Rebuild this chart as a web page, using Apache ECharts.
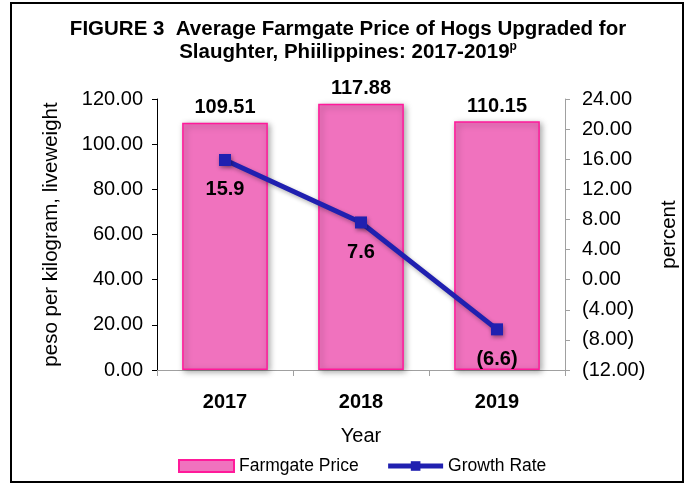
<!DOCTYPE html>
<html>
<head>
<meta charset="utf-8">
<script src="https://cdn.jsdelivr.net/npm/echarts@6/dist/echarts.min.js"></script>
<style>html,body{margin:0;padding:0;background:#fff}#c{width:689px;height:484px}</style>
</head>
<body>
<div id="c"></div>
<script>
var years = ['2017', '2018', '2019'];
var farmgatePrice = [109.51, 117.88, 110.15];
var growthRate = [15.9, 7.6, -6.6];
var leftTicks = { min: 0, max: 120, interval: 20 };
var rightTicks = { min: -12, max: 24, interval: 4 };

var F = "'Liberation Sans', Arial, sans-serif";
function paren(v, d) { return v < 0 ? '(' + Math.abs(v).toFixed(d) + ')' : v.toFixed(d); }

var chart = echarts.init(document.getElementById('c'));
chart.setOption({
  animation: false,
  backgroundColor: '#fff',
  title: {
    text: 'FIGURE 3  Average Farmgate Price of Hogs Upgraded for\nSlaughter, Phiilippines: 2017-2019{sup|p}',
    left: 343, top: 13, textAlign: 'center',
    textStyle: {
      fontFamily: F, fontSize: 20.5, fontWeight: 'bold', color: '#000', lineHeight: 23,
      rich: { sup: { fontFamily: F, fontSize: 12, fontWeight: 'bold', verticalAlign: 'top', lineHeight: 23, padding: [0, 0, 8, 0] } }
    }
  },
  graphic: [{
    type: 'rect', shape: { x: 11, y: 3, width: 672, height: 479 },
    style: { fill: 'none', stroke: '#000', lineWidth: 2 }, z: 100
  }],
  legend: {
    left: 173, top: 452, itemWidth: 55, itemHeight: 12, itemGap: 27,
    textStyle: { fontFamily: F, fontSize: 17.5, color: '#000' },
    data: [
      { name: 'Farmgate Price', icon: 'rect' },
      { name: 'Growth Rate', lineStyle: { width: 5, color: '#2020B0' }, itemStyle: { color: '#2020B0' } }
    ]
  },
  grid: { left: 157, right: 124, top: 99, bottom: 114 },
  xAxis: {
    type: 'category', data: years,
    name: 'Year', nameLocation: 'middle', nameGap: 56,
    nameTextStyle: { fontFamily: F, fontSize: 20, color: '#000' },
    axisLine: { lineStyle: { color: '#A0A0A0', width: 1 } },
    axisTick: { show: true, length: 6, lineStyle: { color: '#A0A0A0' } },
    axisLabel: { fontFamily: F, fontSize: 20, fontWeight: 'bold', color: '#000', margin: 22 }
  },
  yAxis: [{
    type: 'value', min: leftTicks.min, max: leftTicks.max, interval: leftTicks.interval,
    name: 'peso per kilogram, liveweight', nameLocation: 'middle', nameGap: 95, nameRotate: 90,
    nameTextStyle: { fontFamily: F, fontSize: 20.5, color: '#000' },
    axisLine: { show: true, lineStyle: { color: '#000', width: 1 } },
    axisTick: { show: true, length: 5, lineStyle: { color: '#000' } },
    splitLine: { show: false },
    axisLabel: { fontFamily: F, fontSize: 20, color: '#000', margin: 14, formatter: function (v) { return v.toFixed(2); } }
  }, {
    type: 'value', min: rightTicks.min, max: rightTicks.max, interval: rightTicks.interval,
    name: 'percent', nameLocation: 'middle', nameGap: 94, nameRotate: 90,
    nameTextStyle: { fontFamily: F, fontSize: 20.5, color: '#000' },
    axisLine: { show: true, lineStyle: { color: '#A0A0A0', width: 1 } },
    axisTick: { show: true, length: 5, lineStyle: { color: '#A0A0A0' } },
    splitLine: { show: false },
    axisLabel: { fontFamily: F, fontSize: 20, color: '#000', margin: 17, formatter: function (v) { return paren(v, 2); } }
  }],
  series: [{
    name: 'Farmgate Price', type: 'bar', data: farmgatePrice, yAxisIndex: 0,
    barWidth: '63%',
    itemStyle: { color: '#F072BE', borderColor: '#FF1A9A', borderWidth: 1.5,
      shadowColor: 'rgba(0,0,0,0.35)', shadowBlur: 6, shadowOffsetX: 2, shadowOffsetY: 2 },
    label: { show: true, position: 'top', distance: 5, fontFamily: F, fontSize: 20, fontWeight: 'bold', color: '#000',
      formatter: function (p) { return p.value.toFixed(2); } }
  }, {
    name: 'Growth Rate', type: 'line', data: growthRate, yAxisIndex: 1,
    symbol: 'rect', symbolSize: 12, z: 5,
    lineStyle: { color: '#2020B0', width: 5, shadowColor: 'rgba(0,0,0,0.3)', shadowBlur: 4, shadowOffsetX: 1, shadowOffsetY: 2 },
    itemStyle: { color: '#2020B0', shadowColor: 'rgba(0,0,0,0.4)', shadowBlur: 4, shadowOffsetX: 1, shadowOffsetY: 2 },
    label: { show: true, position: 'bottom', distance: 14, fontFamily: F, fontSize: 20, fontWeight: 'bold', color: '#000',
      formatter: function (p) { return paren(p.value, 1); } }
  }]
});
</script>
</body>
</html>
